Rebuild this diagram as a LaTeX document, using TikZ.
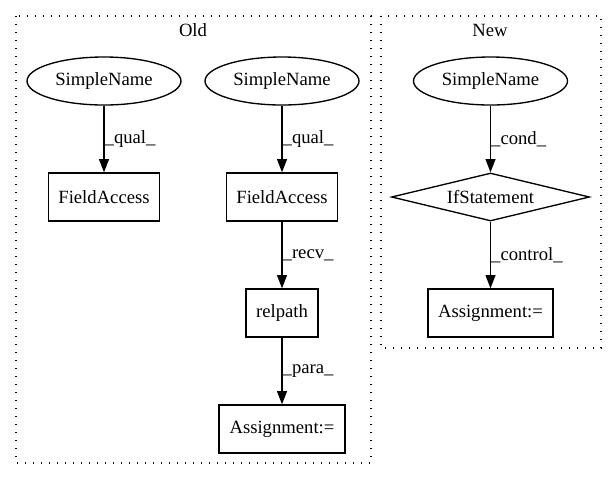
\documentclass[tikz,border=0pt]{standalone}
\usepackage{fontspec}
\setmainfont{Liberation Serif}
\usetikzlibrary{shapes.geometric,arrows.meta}
\tikzset{
  astnode/.style={draw,line width=1pt,inner sep=0pt,minimum height=36pt,font=\fontsize{14}{16}\selectfont},
  namenode/.style={astnode,ellipse,minimum width=115.5pt},
  boxnode/.style={astnode,rectangle},
  condnode/.style={astnode,diamond,aspect=4.125,minimum width=148.5pt},
  edge/.style={line width=1pt,-{Triangle[length=10pt,width=7.5pt]}},
  elabel/.style={anchor=west,inner sep=0pt,font=\fontsize{14}{16}\selectfont},
  cluster/.style={dash pattern=on 1pt off 5pt,line width=1pt}
}
\begin{document}
\begin{tikzpicture}[x=0.75pt,y=-0.75pt]
	\useasboundingbox (0,0) rectangle (616,480);
	
	% Clusters
	\draw[cluster] (16,16) rectangle (371,463);
	\node[font=\fontsize{14}{16}\selectfont] (oldlbl) at (193,30) {Old};
	\draw[cluster] (381,16) rectangle (601,348);
	\node[font=\fontsize{14}{16}\selectfont] (newlbl) at (490,30) {New};
	
	% Old
	\node[namenode] (sn1) at (104,81) {SimpleName};
	\node[namenode] (sn2) at (282,81) {SimpleName};
	\node[boxnode,minimum width=83.25pt] (fa1) at (104,197) {FieldAccess};
	\node[boxnode,minimum width=83.25pt] (fa2) at (282,197) {FieldAccess};
	\node[boxnode,minimum width=54pt] (rel) at (282,313) {relpath};
	\node[boxnode,minimum width=94.5pt] (asg1) at (282,429) {Assignment:=};
	
	\draw[edge] (sn1) -- (fa1) node[elabel,midway] {\_qual\_};
	\draw[edge] (sn2) -- (fa2) node[elabel,midway] {\_qual\_};
	\draw[edge] (fa2) -- (rel) node[elabel,midway] {\_recv\_};
	\draw[edge] (rel) -- (asg1) node[elabel,midway] {\_para\_};
	
	% New
	\node[namenode] (sn3) at (490.5,81) {SimpleName};
	\node[condnode] (ifs) at (490.5,197) {IfStatement};
	\node[boxnode,minimum width=93.75pt] (asg2) at (490.5,313) {Assignment:=};
	
	\draw[edge] (sn3) -- (ifs) node[elabel,midway] {\_cond\_};
	\draw[edge] (ifs) -- (asg2) node[elabel,midway] {\_control\_};
	
\end{tikzpicture}
\end{document}
